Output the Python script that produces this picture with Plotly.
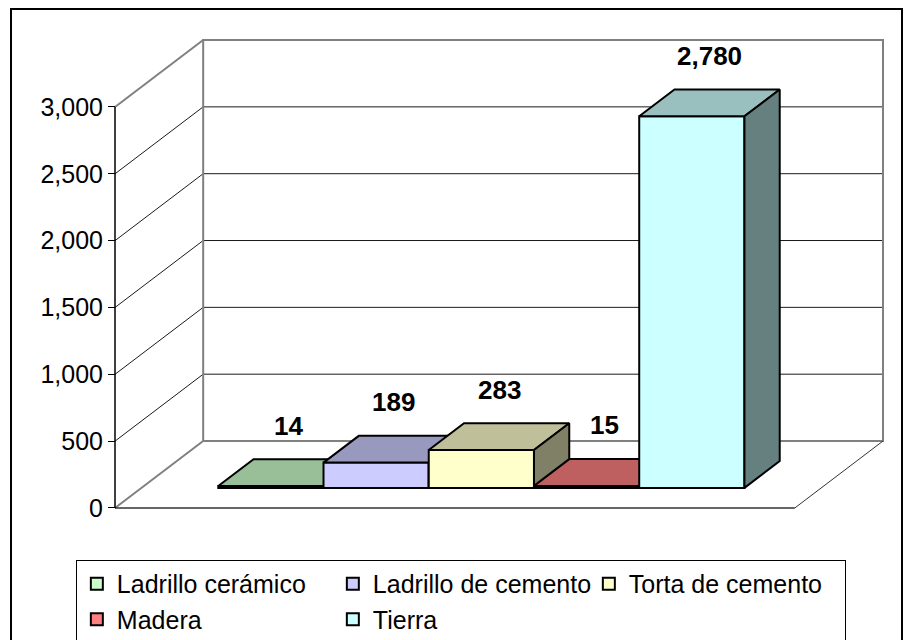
import plotly.graph_objects as go

# ---------------- data ----------------
series = ["Ladrillo cerámico", "Ladrillo de cemento", "Torta de cemento", "Madera", "Tierra"]
values = [14, 189, 283, 15, 2780]
front_colors = ["#CCFFCC", "#CCCCFF", "#FFFFCC", "#FF8080", "#CCFFFF"]
top_colors = ["#99BF99", "#9999BF", "#BFBF99", "#BF6060", "#99BFBF"]
side_colors = ["#668066", "#666680", "#808066", "#804040", "#668080"]
y_ticks = [0, 500, 1000, 1500, 2000, 2500, 3000]

# ---------------- 3-D projection settings ----------------
YMAX = 3000
DX = 0.838      # depth shift in category units
DY = 501        # depth shift in value units
GAP = 0.73      # floor margin either side of the bar group
D0, D1 = 0.3, 0.7   # bar depth (front, back)
PAD_X, PAD_Y = 0.095, 75

def proj(u, v, d):
    return u + d * DX, v + d * DY

n = len(series)
x0, x1 = -GAP, n + GAP
xrange = [x0 - PAD_X, x1 + DX + PAD_X]
yrange = [-PAD_Y, YMAX + DY + PAD_Y]

fig = go.Figure()

def seg(pts, color, width):
    xs = [p[0] for p in pts]
    ys = [p[1] for p in pts]
    fig.add_trace(go.Scatter(x=xs, y=ys, mode="lines", line=dict(color=color, width=width),
                             showlegend=False, hoverinfo="skip", xaxis="x", yaxis="y"))

WALL = "#808080"
# gridlines on left wall and back wall
for t in y_ticks[1:-1]:
    seg([proj(x0, t, 0), proj(x0, t, 1), proj(x1, t, 1)], "#1a1a1a", 1)
# left wall
seg([proj(x0, 0, 0), proj(x0, 0, 1)], WALL, 2)
seg([proj(x0, YMAX, 0), proj(x0, YMAX, 1)], WALL, 2)
# back wall
seg([proj(x0, 0, 1), proj(x1, 0, 1), proj(x1, YMAX, 1), proj(x0, YMAX, 1), proj(x0, 0, 1)], WALL, 2)
# floor
seg([proj(x1, 0, 0), proj(x1, 0, 1)], "#333333", 1)
seg([proj(x0, 0, 0), proj(x1, 0, 0)], "#333333", 1.5)
# front value axis
seg([proj(x0, 0, 0), proj(x0, YMAX, 0)], "#000000", 1.5)

# ---------------- bars (each on its own overlay so painter's order is right) ----------------
for i, (name, v) in enumerate(zip(series, values)):
    ax = str(i + 2)
    xa, ya = "x" + ax, "y" + ax
    ul, ur = i, i + 1
    fig.add_trace(go.Bar(x=[proj(i + 0.5, 0, D0)[0]], y=[v], base=[proj(0, 0, D0)[1]], width=[1],
                         name=name, marker=dict(color=front_colors[i], line=dict(color="black", width=2)),
                         xaxis=xa, yaxis=ya, hoverinfo="skip"))
    top = [proj(ul, v, D0), proj(ur, v, D0), proj(ur, v, D1), proj(ul, v, D1), proj(ul, v, D0)]
    fig.add_trace(go.Scatter(x=[p[0] for p in top], y=[p[1] for p in top], mode="lines", fill="toself",
                             fillcolor=top_colors[i], line=dict(color="black", width=2),
                             showlegend=False, hoverinfo="skip", xaxis=xa, yaxis=ya))
    side = [proj(ur, 0, D0), proj(ur, 0, D1), proj(ur, v, D1), proj(ur, v, D0), proj(ur, 0, D0)]
    fig.add_trace(go.Scatter(x=[p[0] for p in side], y=[p[1] for p in side], mode="lines", fill="toself",
                             fillcolor=side_colors[i], line=dict(color="black", width=2),
                             showlegend=False, hoverinfo="skip", xaxis=xa, yaxis=ya))
    lx, ly = proj(i + 0.5, v, 0.5)
    fig.add_annotation(x=lx, y=ly, xref="x", yref="y", text=f"<b>{v:,}</b>", showarrow=False,
                       yshift=47, font=dict(family="Arial, Liberation Sans", size=26, color="black"))

# The page body adds an 8 px offset, so the figure is 8 px smaller than the window.
FONT = "Arial, Liberation Sans, sans-serif"
layout = dict(
    width=903, height=632,
    margin=dict(l=97, r=18, t=22, b=122, autoexpand=False),
    paper_bgcolor="white", plot_bgcolor="white",
    hovermode=False,
    barmode="overlay",
    font=dict(family=FONT, size=25, color="black"),
    xaxis=dict(range=xrange, visible=False, domain=[0, 1], fixedrange=True),
    yaxis=dict(range=yrange, anchor="free", position=(x0 - xrange[0]) / (xrange[1] - xrange[0]),
               tickvals=y_ticks, tickformat=",", ticks="outside", ticklen=7, tickwidth=1,
               tickcolor="black", showline=False, showgrid=False, zeroline=False, automargin=False,
               tickfont=dict(family=FONT, size=25, color="black"), fixedrange=True),
    legend=dict(orientation="h", x=-0.037, y=-0.086, xanchor="left", yanchor="top",
                entrywidth=211, entrywidthmode="pixels", bgcolor="white",
                bordercolor="black", borderwidth=1, traceorder="normal",
                font=dict(family=FONT, size=25, color="black")),
    shapes=[dict(type="rect", xref="paper", yref="paper",
                 x0=(11 - 105) / 788, x1=(902 - 105) / 788, y0=(518 - 650) / 488, y1=(518 - 9) / 488,
                 line=dict(color="black", width=2), layer="below")],
)
for i in range(n):
    ax = str(i + 2)
    layout["xaxis" + ax] = dict(range=xrange, visible=False, overlaying="x", anchor="y" + ax, fixedrange=True)
    layout["yaxis" + ax] = dict(range=yrange, visible=False, overlaying="y", anchor="x" + ax, fixedrange=True)
fig.update_layout(**layout)

fig.write_html("out.html")
